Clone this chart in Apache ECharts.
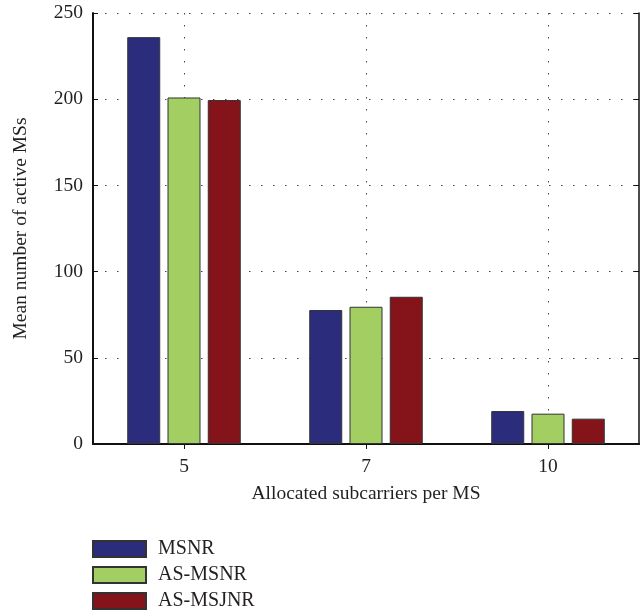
<!DOCTYPE html>
<html><head><meta charset="utf-8">
<script src="https://cdn.jsdelivr.net/npm/echarts@6/dist/echarts.min.js"></script>
<style>html,body{margin:0;padding:0;background:#fff}#c{width:644px;height:616px}</style>
</head><body><div id="c"></div>
<script>
const categories = ['5', '7', '10'];
const msnr = [236, 77.7, 19.1];
const asMsnr = [201, 79.6, 17.6];
const asMsjnr = [199.5, 85.4, 14.7];
const yTicks = { min: 0, max: 250, interval: 50 };

const font = 'Liberation Serif';
const txt = '#231f20';
const dots = { type: [1.5, 10.5], color: '#444', width: 1 };
const chart = echarts.init(document.getElementById('c'));
const bar = (name, data, color) => ({
  name, type: 'bar', data, barWidth: 33, barGap: '22%',
  itemStyle: { color, borderColor: '#333', borderWidth: 1 }
});
chart.setOption({
  animation: false,
  textStyle: { fontFamily: font, color: txt },
  grid: { left: 93, right: 5, top: 13, bottom: 172 },
  legend: {
    orient: 'vertical', left: 92, top: 539, height: 200, padding: 0,
    itemWidth: 53, itemHeight: 16, itemGap: 6,
    icon: 'rect',
    textStyle: { fontFamily: font, fontSize: 20, lineHeight: 20, color: txt, padding: [0, 0, 0, 7] },
    data: ['MSNR', 'AS-MSNR', 'AS-MSJNR']
  },
  xAxis: [{
    type: 'category', data: categories,
    name: 'Allocated subcarriers per MS', nameLocation: 'middle', nameGap: 40,
    nameTextStyle: { fontFamily: font, fontSize: 19.5, color: txt },
    axisLine: { lineStyle: { color: '#111', width: 2 } },
    axisTick: { show: false },
    axisLabel: { fontFamily: font, fontSize: 19.5, color: txt, margin: 13 },
    splitLine: { show: true, alignWithLabel: true, lineStyle: dots }
  }, {
    type: 'category', data: categories, position: 'top',
    axisLine: { lineStyle: { color: '#111', width: 1.5 } },
    axisTick: { show: true, inside: true, alignWithLabel: true, length: 5, lineStyle: { color: '#111' } },
    axisLabel: { show: false }, splitLine: { show: false }
  }],
  yAxis: [{
    type: 'value', min: yTicks.min, max: yTicks.max, interval: yTicks.interval,
    name: 'Mean number of active MSs', nameLocation: 'middle', nameGap: 62,
    nameTextStyle: { fontFamily: font, fontSize: 19.5, color: txt },
    axisLine: { show: true, lineStyle: { color: '#111', width: 2 } },
    axisTick: { show: true, inside: true, length: 5, lineStyle: { color: '#111' } },
    axisLabel: { fontFamily: font, fontSize: 19.5, color: txt, margin: 10 },
    splitLine: { show: true, lineStyle: dots }
  }, {
    type: 'value', min: yTicks.min, max: yTicks.max, interval: yTicks.interval, position: 'right',
    axisLine: { show: true, lineStyle: { color: '#111', width: 1.5 } },
    axisTick: { show: true, inside: true, length: 5, lineStyle: { color: '#111' } },
    axisLabel: { show: false }, splitLine: { show: false }
  }],
  series: [
    bar('MSNR', msnr, '#2b2c7c'),
    bar('AS-MSNR', asMsnr, '#a3cf62'),
    bar('AS-MSJNR', asMsjnr, '#84141a')
  ]
});
</script></body></html>
